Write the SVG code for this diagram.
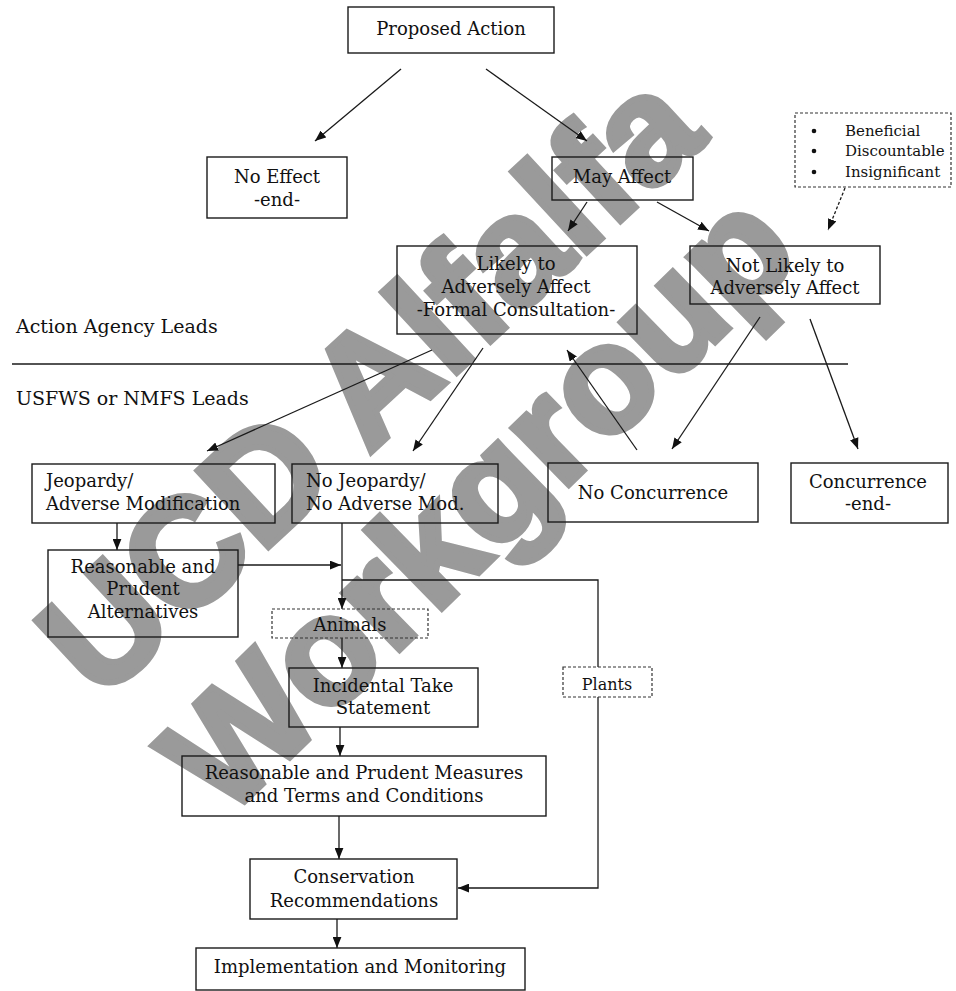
<svg xmlns="http://www.w3.org/2000/svg" width="956" height="991" viewBox="0 0 956 991">
<style>
.bx{fill:none;stroke:#1a1a1a;stroke-width:1.4}
.dbx{fill:none;stroke:#333;stroke-width:1.2;stroke-dasharray:3 2}
.t{font-family:"DejaVu Serif","Liberation Serif",serif;font-size:18px;fill:#111}
.m{text-anchor:middle}
.s{font-size:15px}
.c{fill:none;stroke:#1a1a1a;stroke-width:1.3}
.wm{font-family:"Liberation Sans",Arial,sans-serif;font-weight:bold;font-size:152px;fill:#9a9a9a;stroke:#9a9a9a;stroke-width:6;text-anchor:middle}
</style>
<defs>
<marker id="ah" viewBox="0 0 10 8" refX="10" refY="4" markerWidth="11" markerHeight="9" markerUnits="userSpaceOnUse" orient="auto">
<path d="M0,0 L10,4 L0,8 z" fill="#111"/>
</marker>
</defs>
<rect width="956" height="991" fill="#fff"/>
<g id="watermark">
<text class="wm" transform="translate(372,386) rotate(-42.8)" x="0" y="48">UCD Alfalfa</text>
<text class="wm" transform="translate(486,510) rotate(-44.3)" x="0" y="40">Workgroup</text>
</g>
<g id="connectors">
<line class="c" x1="12" y1="364" x2="848" y2="364"/>
<line class="c" x1="401" y1="69" x2="315" y2="141" marker-end="url(#ah)"/>
<line class="c" x1="486" y1="69" x2="587" y2="141" marker-end="url(#ah)"/>
<line class="c" x1="587" y1="202" x2="568" y2="231" marker-end="url(#ah)"/>
<line class="c" x1="657" y1="202" x2="709" y2="231" marker-end="url(#ah)"/>
<line class="c" x1="845" y1="188" x2="828" y2="230" stroke-dasharray="3 2" marker-end="url(#ah)"/>
<line class="c" x1="432" y1="350" x2="207" y2="451" marker-end="url(#ah)"/>
<line class="c" x1="483" y1="348" x2="413" y2="451" marker-end="url(#ah)"/>
<line class="c" x1="637" y1="450" x2="567" y2="350" marker-end="url(#ah)"/>
<line class="c" x1="760" y1="317" x2="672" y2="449" marker-end="url(#ah)"/>
<line class="c" x1="810" y1="319" x2="858" y2="449" marker-end="url(#ah)"/>
<line class="c" x1="117" y1="523" x2="117" y2="550" marker-end="url(#ah)"/>
<line class="c" x1="238" y1="565" x2="341" y2="565" marker-end="url(#ah)"/>
<line class="c" x1="342" y1="523" x2="342" y2="609" marker-end="url(#ah)"/>
<polyline class="c" points="342,580 598,580 598,667"/>
<polyline class="c" points="598,697 598,888 458,888" marker-end="url(#ah)"/>
<line class="c" x1="342" y1="638" x2="342" y2="668" marker-end="url(#ah)"/>
<line class="c" x1="340" y1="727" x2="340" y2="756" marker-end="url(#ah)"/>
<line class="c" x1="339" y1="816" x2="339" y2="859" marker-end="url(#ah)"/>
<line class="c" x1="337" y1="919" x2="337" y2="948" marker-end="url(#ah)"/>
</g>
<g id="lane-labels">
<text class="t" x="16" y="333" style="font-size:19px">Action Agency Leads</text>
<text class="t" x="16" y="405" style="font-size:19px">USFWS or NMFS Leads</text>
</g>
<g id="proposed-action">
<rect class="bx" x="348" y="7" width="206" height="46"/>
<text class="t m" x="451" y="35">Proposed Action</text>
</g>
<g id="no-effect">
<rect class="bx" x="207" y="157" width="140" height="61"/>
<text class="t m" x="277" y="183">No Effect</text>
<text class="t m" x="277" y="206">-end-</text>
</g>
<g id="may-affect">
<rect class="bx" x="552" y="157" width="141" height="43"/>
<text class="t m" x="622" y="183">May Affect</text>
</g>
<g id="criteria">
<rect class="dbx" x="795" y="113" width="156" height="74"/>
<circle cx="814" cy="131" r="2.3" fill="#111"/>
<circle cx="814" cy="151" r="2.3" fill="#111"/>
<circle cx="814" cy="172" r="2.3" fill="#111"/>
<text class="t s" x="845" y="136">Beneficial</text>
<text class="t s" x="845" y="156">Discountable</text>
<text class="t s" x="845" y="177">Insignificant</text>
</g>
<g id="likely">
<rect class="bx" x="397" y="246" width="240" height="88"/>
<text class="t m" x="516" y="270">Likely to</text>
<text class="t m" x="516" y="293">Adversely Affect</text>
<text class="t m" x="516" y="316">-Formal Consultation-</text>
</g>
<g id="not-likely">
<rect class="bx" x="690" y="246" width="190" height="58"/>
<text class="t m" x="785" y="272">Not Likely to</text>
<text class="t m" x="785" y="294">Adversely Affect</text>
</g>
<g id="jeopardy">
<rect class="bx" x="32" y="464" width="243" height="59"/>
<text class="t" x="46" y="487">Jeopardy/</text>
<text class="t" x="46" y="510">Adverse Modification</text>
</g>
<g id="no-jeopardy">
<rect class="bx" x="292" y="464" width="206" height="59"/>
<text class="t" x="306" y="487">No Jeopardy/</text>
<text class="t" x="306" y="510">No Adverse Mod.</text>
</g>
<g id="no-concurrence">
<rect class="bx" x="548" y="463" width="210" height="59"/>
<text class="t m" x="653" y="499">No Concurrence</text>
</g>
<g id="concurrence">
<rect class="bx" x="791" y="463" width="157" height="60"/>
<text class="t m" x="868" y="488">Concurrence</text>
<text class="t m" x="868" y="510">-end-</text>
</g>
<g id="rpa">
<rect class="bx" x="48" y="550" width="190" height="87"/>
<text class="t m" x="143" y="573">Reasonable and</text>
<text class="t m" x="143" y="595">Prudent</text>
<text class="t m" x="143" y="618">Alternatives</text>
</g>
<g id="animals">
<rect class="dbx" x="272" y="609" width="156" height="29"/>
<text class="t m" x="350" y="631">Animals</text>
</g>
<g id="plants">
<rect class="dbx" x="563" y="667" width="89" height="30"/>
<text class="t m" x="607" y="690" style="font-size:16px">Plants</text>
</g>
<g id="its">
<rect class="bx" x="289" y="668" width="189" height="59"/>
<text class="t m" x="383" y="692">Incidental Take</text>
<text class="t m" x="383" y="714">Statement</text>
</g>
<g id="rpm">
<rect class="bx" x="182" y="756" width="364" height="60"/>
<text class="t m" x="364" y="779">Reasonable and Prudent Measures</text>
<text class="t m" x="364" y="802">and Terms and Conditions</text>
</g>
<g id="conservation">
<rect class="bx" x="250" y="859" width="207" height="60"/>
<text class="t m" x="354" y="883">Conservation</text>
<text class="t m" x="354" y="907">Recommendations</text>
</g>
<g id="implementation">
<rect class="bx" x="196" y="948" width="329" height="42"/>
<text class="t m" x="360" y="973">Implementation and Monitoring</text>
</g>
</svg>
